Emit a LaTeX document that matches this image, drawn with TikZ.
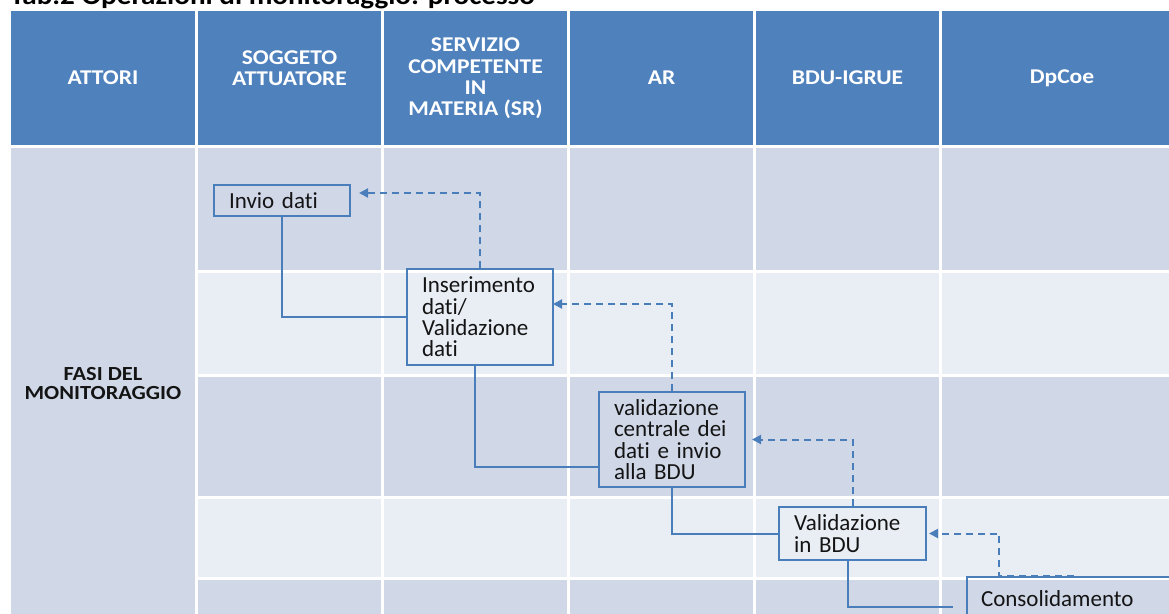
\documentclass[tikz,border=0pt]{standalone}
\usepackage{fontspec}
\setmainfont[RawFeature={-liga;-clig;-calt;-dlig}]{Carlito}
\newfontfamily\wfont[FakeStretch=1.12,RawFeature={-liga;-clig;-calt;-dlig}]{Carlito}
\usetikzlibrary{arrows.meta,calc}
\definecolor{hdr}{RGB}{79,129,189}
\definecolor{rowdark}{RGB}{208,216,232}
\definecolor{rowlight}{RGB}{233,237,244}
\definecolor{lineblue}{RGB}{74,126,187}
\definecolor{txt}{RGB}{20,20,20}
\begin{document}
\begin{tikzpicture}[x=1pt,y=-1pt,
  hdrtext/.style={text=white,font=\wfont\bfseries\fontsize{21}{21.3}\selectfont,align=center,inner sep=0pt},
  proc/.style={draw=lineblue,line width=2pt,anchor=north west,align=left,inner xsep=15pt,inner ysep=0pt,
     text=txt,font=\fontsize{23}{21.3}\selectfont},
  conn/.style={draw=lineblue,line width=2pt},
  fb/.style={draw=lineblue,line width=2pt,dash pattern=on 7pt off 5pt,-{Triangle[length=9pt,width=9pt]}},
]
\useasboundingbox (0,0) rectangle (1169,613);
\clip (0,0) rectangle (1169,613);
\fill[white] (0,0) rectangle (1169,613);
% header cells
\foreach \xa/\xb in {9.5/196.5,196.5/382.5,382.5/568.5,568.5/754.5,754.5/940.5,940.5/1180}{
  \fill[hdr] (\xa+1.5,11) rectangle (\xb-1.5,144.5);
}
% first column merged body cell
\fill[rowdark] (11,147.5) rectangle (195,620);
% body cells
\foreach \xa/\xb in {196.5/382.5,382.5/568.5,568.5/754.5,754.5/940.5,940.5/1180}{
  \foreach \ya/\yb/\c in {146/271/rowdark,271/375.5/rowlight,375.5/497.5/rowdark,497.5/578.5/rowlight,578.5/630/rowdark}{
    \fill[\c] (\xa+1.5,\ya+1.5) rectangle (\xb-1.5,\yb-1.5);
  }
}
% title
\node[anchor=base west,inner sep=0pt,font=\wfont\bfseries\fontsize{26}{28}\selectfont,text=black] (title) at (10,4.5) {Tab.2 Operazioni di monitoraggio: processo};
% header labels
\node[hdrtext] (hA) at (103,78) {ATTORI};
\node[hdrtext] (hB) at (289.5,68) {SOGGETO\\ATTUATORE};
\node[hdrtext] (hC) at (475.5,78.5) {SERVIZIO\\COMPETENTE\\IN\\MATERIA (SR)};
\node[hdrtext] (hD) at (661.5,78) {AR};
\node[hdrtext] (hE) at (847.5,78) {BDU-IGRUE};
\node[hdrtext] (hF) at (1062,78) {DpCoe};
\node[text=txt,font=\wfont\bfseries\fontsize{20}{19.5}\selectfont,align=center,inner sep=0pt] (fasi) at (103,383.5) {FASI DEL\\MONITORAGGIO};
% process boxes
\node[proc,minimum width=136pt,minimum height=31pt,text width=106pt,inner xsep=15pt] (invio) at (213,184) {Invio dati};
\node[proc,minimum width=146pt,minimum height=96pt,text width=116pt] (inser) at (406,268) {Inserimento\\dati/\\Validazione\\dati};
\node[proc,minimum width=146pt,minimum height=95pt,text width=116pt] (valid) at (598,391) {validazione\\centrale dei\\dati e invio\\alla BDU};
\node[proc,minimum width=147pt,minimum height=53pt,text width=117pt] (vbdu) at (778,506) {Validazione\\in BDU};
\node[proc,minimum width=214pt,minimum height=44pt,text width=186pt,inner xsep=14pt] (consol) at (966,576) {Consolidamento};
% connectors
\draw[conn] (invio.south) |- (inser.west);
\draw[fb] (inser.north) |- ([xshift=8pt,yshift=7.5pt]invio.east);
\draw[conn] ([xshift=-5pt]inser.south) |- ([yshift=-27.5pt]valid.west);
\draw[fb] (valid.north) |- ([xshift=-1pt,yshift=13pt]inser.east);
\draw[conn] (valid.south) |- (vbdu.west);
\draw[fb] (vbdu.north) |- ([xshift=6pt]valid.east);
\draw[conn] ([xshift=-4.5pt]vbdu.south) |- ([xshift=-13pt,yshift=-8pt]consol.west);
\draw[fb] (consol.north) -- ++(-75,0) |- ([xshift=2pt]vbdu.east);
\end{tikzpicture}
\end{document}
